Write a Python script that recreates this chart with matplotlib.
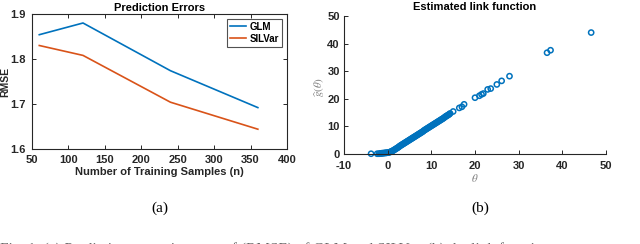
import numpy as np
import matplotlib.pyplot as plt

# panel (a): prediction errors
n_samples = [60, 120, 240, 360]
rmse_glm = [1.854, 1.880, 1.774, 1.692]
rmse_silvar = [1.830, 1.808, 1.704, 1.644]

# panel (b): estimated link function
theta = [-3.8, -2.4, -2.0, -1.7, -1.5, -1.3, -1.1, -0.9, -0.7, -0.5, -0.3, -0.1, 0.1, 0.3,
         0.5, 0.7, 0.9, 1.1, 1.3, 1.5, 1.7, 1.9, 2.1, 2.3, 2.5, 2.7, 2.9, 3.1, 3.3, 3.5,
         3.7, 3.9, 4.1, 4.3, 4.5, 4.7, 4.9, 5.1, 5.3, 5.5, 5.7, 5.9, 6.1, 6.3, 6.5, 6.7,
         6.9, 7.1, 7.3, 7.5, 7.7, 7.9, 8.1, 8.3, 8.5, 8.7, 8.9, 9.1, 9.3, 9.5, 9.7, 9.9,
         10.1, 10.3, 10.5, 10.7, 10.9, 11.1, 11.3, 11.5, 11.7, 11.9, 12.1, 12.3, 12.5, 12.7,
         12.9, 13.1, 13.3, 13.5, 13.7, 13.9, 14.1, 14.3,
         15.0, 16.4, 17.0, 17.5, 20.0, 21.0, 21.5, 21.9, 22.9, 23.6, 25.0, 26.1, 27.9,
         36.5, 37.3, 46.6]
g_hat = [0.1, 0.1, 0.1, 0.2, 0.2, 0.3, 0.3, 0.3, 0.4, 0.4, 0.4, 0.5, 0.5, 0.6,
         0.7, 0.8, 1.0, 1.1, 1.3, 1.5, 1.7, 1.9, 2.1, 2.3, 2.5, 2.8, 3.0, 3.2, 3.4, 3.6,
         3.8, 4.0, 4.2, 4.4, 4.6, 4.8, 5.0, 5.2, 5.4, 5.6, 5.8, 6.0, 6.2, 6.4, 6.6, 6.8,
         7.0, 7.2, 7.4, 7.6, 7.8, 8.0, 8.2, 8.5, 8.7, 8.9, 9.1, 9.3, 9.5, 9.7, 9.9, 10.1,
         10.3, 10.5, 10.7, 10.9, 11.1, 11.3, 11.5, 11.7, 11.9, 12.1, 12.3, 12.5, 12.7, 12.9,
         13.1, 13.4, 13.6, 13.8, 14.0, 14.2, 14.4, 14.7,
         15.4, 16.7, 17.1, 18.0, 20.4, 21.1, 21.6, 21.9, 23.4, 23.7, 25.2, 26.5, 28.2,
         36.7, 37.6, 44.0]

c_blue = (0.0, 0.447, 0.741)
c_orange = (0.85, 0.325, 0.098)
c_axis = (0.15, 0.15, 0.15)

plt.rcParams['font.family'] = ['Liberation Sans', 'DejaVu Sans']
plt.rcParams['mathtext.fontset'] = 'stix'
plt.rcParams['axes.unicode_minus'] = False

fig = plt.figure(figsize=(6.4, 2.44), dpi=100)

# (a)
ax1 = fig.add_axes([32 / 640, 1 - 149 / 244, 255 / 640, 135 / 244])
ax1.plot(n_samples, rmse_glm, color=c_blue, lw=1.2, label='GLM')
ax1.plot(n_samples, rmse_silvar, color=c_orange, lw=1.2, label='SILVar')
ax1.set_xlim(50, 400)
ax1.set_ylim(1.6, 1.9)
ax1.set_xticks(np.arange(50, 401, 50))
ax1.set_yticks([1.6, 1.7, 1.8, 1.9])
ax1.tick_params(direction='in', top=True, right=True, length=3, width=0.7,
                labelsize=8, colors=c_axis)
ax1.tick_params(axis='y', pad=4.5)
ax1.tick_params(axis='x', pad=4.5)
for lab in ax1.get_xticklabels() + ax1.get_yticklabels():
    lab.set_fontweight('bold')
for sp in ax1.spines.values():
    sp.set_color(c_axis)
    sp.set_linewidth(0.8)
ax1.set_title('Prediction Errors', fontsize=8, fontweight='bold', pad=2)
ax1.set_xlabel('Number of Training Samples (n)', fontsize=8, fontweight='bold',
               color=c_axis, labelpad=1)
ax1.set_ylabel('RMSE', fontsize=7.5, fontweight='bold', color=c_axis)
ax1.yaxis.set_label_coords(-32 / 255, 0.5)
ax1.yaxis.label.set_va('top')
leg = ax1.legend(loc='upper right', prop={'weight': 'bold', 'size': 7},
                 handlelength=1.6, handletextpad=0.4, borderpad=0.3,
                 labelspacing=0.2, fancybox=False, borderaxespad=0.5)
leg.get_frame().set_edgecolor(c_axis)
leg.get_frame().set_linewidth(0.8)

# (b)
ax2 = fig.add_axes([344 / 640, 1 - 154 / 244, 262 / 640, 138 / 244])
ax2.scatter(theta, g_hat, s=14, facecolors='none', edgecolors=c_blue, linewidths=1.1,
            clip_on=False)
ax2.set_xlim(-10, 50)
ax2.set_ylim(0, 50)
ax2.set_xticks(np.arange(-10, 51, 10))
ax2.set_yticks(np.arange(0, 51, 10))
ax2.spines['top'].set_visible(False)
ax2.spines['right'].set_visible(False)
for sp in ax2.spines.values():
    sp.set_color(c_axis)
    sp.set_linewidth(0.8)
ax2.tick_params(direction='in', length=3, width=0.7, labelsize=8, colors=c_axis)
ax2.tick_params(axis='y', pad=3)
ax2.tick_params(axis='x', pad=5)
for lab in ax2.get_xticklabels() + ax2.get_yticklabels():
    lab.set_fontweight('bold')
ax2.set_title('Estimated link function', fontsize=8, fontweight='bold', pad=4)
ax2.set_xlabel(r'$\theta$', fontsize=8, color='0.5', labelpad=1)
ax2.set_ylabel(r'$\widehat{g}(\theta)$', fontsize=8, color='0.5')
ax2.yaxis.set_label_coords((327 - 344) / 262, (154 - 87) / 138)

fig.text(160 / 640, 1 - 208 / 244, '(a)', family='Liberation Serif', fontsize=11,
         ha='center', va='center')
fig.text(480 / 640, 1 - 208 / 244, '(b)', family='Liberation Serif', fontsize=11,
         ha='center', va='center')
# caption of the figure, cut off at the bottom edge as in the source
fig.text(0.0, 1 - 253 / 244,
         'Fig. 1: (a) Prediction errors in terms of (RMSE) of GLM and SILVar, (b) the link function',
         family='Liberation Serif', fontsize=11, ha='left', va='baseline', color='0.4')

fig.savefig('out.png', dpi=100)
